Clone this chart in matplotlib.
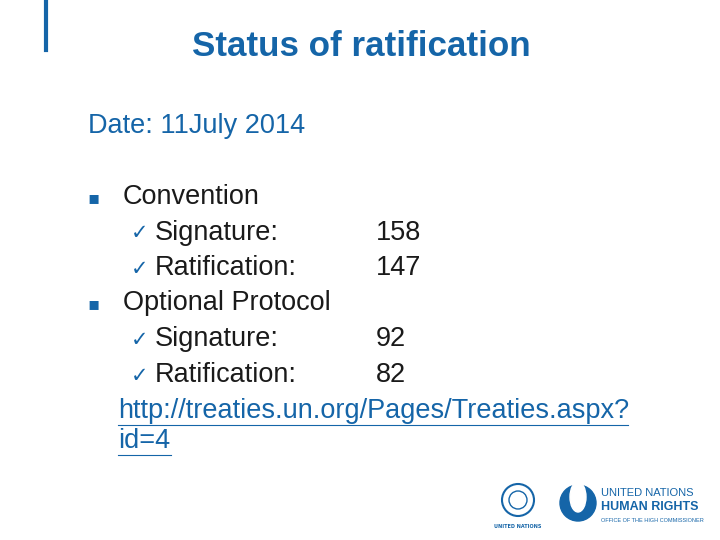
import matplotlib
matplotlib.use("Agg")
import matplotlib.pyplot as plt
from matplotlib.patches import Circle, Ellipse

title = "Status of ratification"
date_line = "Date: 11July 2014"
groups = ["Convention", "Optional Protocol"]
items = ["Signature:", "Ratification:"]
values = [[158, 147], [92, 82]]
link = ["http://treaties.un.org/Pages/Treaties.aspx?", "id=4"]

W, H = 720, 540
fig = plt.figure(figsize=(7.2, 5.4), dpi=100)
fig.patch.set_facecolor("white")
BLUE = "#1565a8"
FAM = ["Liberation Sans", "DejaVu Sans"]
FS = 19.5

def T(x, y, s, **kw):
    kw.setdefault("family", FAM)
    fig.text(x / W, 1 - y / H, s, va="center", **kw)

fig.add_artist(plt.Line2D([46 / W, 46 / W], [1 - 2 / H, 1 - 50 / H], color=BLUE, lw=3))

T(361, 47, title, ha="center", fontsize=25.2, fontweight="bold", color=BLUE)
T(88, 126, date_line, fontsize=FS, color=BLUE)

y = 197
step = 35.5
for g, vals in zip(groups, values):
    T(87, y + 1, "\u25aa", fontsize=13, color=BLUE, family=["DejaVu Sans"])
    T(123, y, g, fontsize=FS, color="#1a1a1a")
    y += step
    for it, v in zip(items, vals):
        T(131, y + 1, "\u2713", fontsize=15, color=BLUE, family=["DejaVu Sans"])
        T(155, y, it, fontsize=FS, color="#1a1a1a")
        T(376, y, str(v), fontsize=FS, color="#1a1a1a")
        y += step
T(118, 411, link[0], fontsize=FS, color=BLUE)
T(118, 441, link[1], fontsize=FS, color=BLUE)
for yy, x1 in [(425, 628), (455, 171)]:
    fig.add_artist(plt.Line2D([118 / W, x1 / W], [1 - yy / H, 1 - yy / H], color=BLUE, lw=0.8))

ax = fig.add_axes([0, 0, 1, 1], facecolor="none")
ax.set_xlim(0, W); ax.set_ylim(H, 0); ax.axis("off")
ax.add_patch(Circle((518, 500), 16, fill=False, ec=BLUE, lw=1.5))
ax.add_patch(Circle((518, 500), 9, fill=False, ec=BLUE, lw=1))
ax.text(518, 527, "UNITED NATIONS", fontsize=3.5, color=BLUE, ha="center", va="center", fontweight="bold")
ax.add_patch(Ellipse((578, 503), 36, 36, color=BLUE))
ax.add_patch(Ellipse((578, 497), 16, 30, color="white"))
T(601, 493, "UNITED NATIONS", fontsize=8, color=BLUE)
T(601, 507, "HUMAN RIGHTS", fontsize=9, color=BLUE, fontweight="bold")
T(601, 520, "OFFICE OF THE HIGH COMMISSIONER", fontsize=4, color=BLUE)

fig.savefig("out.png", dpi=100)
